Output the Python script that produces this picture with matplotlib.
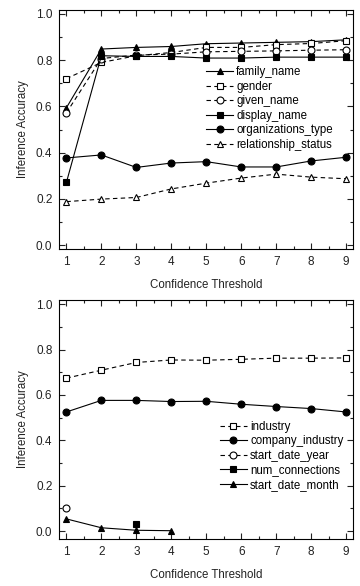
import matplotlib
matplotlib.use('Agg')
import matplotlib.pyplot as plt
from matplotlib.ticker import MultipleLocator
import numpy as np

plt.rcParams['font.family'] = ['Liberation Sans', 'DejaVu Sans']

# %% Data
thresholds = [1, 2, 3, 4, 5, 6, 7, 8, 9]

family_name = [0.594, 0.848, 0.855, 0.859, 0.871, 0.874, 0.877, 0.880, 0.888]
gender = [0.720, 0.790, 0.819, 0.833, 0.855, 0.855, 0.867, 0.872, 0.884]
given_name = [0.572, 0.807, 0.822, 0.826, 0.836, 0.838, 0.840, 0.843, 0.845]
display_name = [0.271, 0.819, 0.816, 0.816, 0.809, 0.809, 0.813, 0.813, 0.813]
organizations_type = [0.377, 0.390, 0.336, 0.355, 0.361, 0.338, 0.338, 0.364, 0.380]
relationship_status = [0.188, 0.199, 0.206, 0.243, 0.268, 0.290, 0.307, 0.294, 0.287]

industry = [0.674, 0.709, 0.743, 0.754, 0.753, 0.757, 0.762, 0.762, 0.763]
company_industry = [0.525, 0.576, 0.576, 0.571, 0.572, 0.559, 0.549, 0.540, 0.525]
start_date_year = [0.100, None, None, None, None, None, None, None, None]
num_connections = [None, None, 0.032, None, None, None, None, None, None]
start_date_month = [0.054, 0.015, 0.004, 0.002, None, None, None, None, None]

top_series = [
    ('family_name', family_name, '-', '^', 'k'),
    ('gender', gender, '--', 's', 'w'),
    ('given_name', given_name, '--', 'o', 'w'),
    ('display_name', display_name, '-', 's', 'k'),
    ('organizations_type', organizations_type, '-', 'o', 'k'),
    ('relationship_status', relationship_status, '--', '^', 'w'),
]
bottom_series = [
    ('industry', industry, '--', 's', 'w'),
    ('company_industry', company_industry, '-', 'o', 'k'),
    ('start_date_year', start_date_year, '--', 'o', 'w'),
    ('num_connections', num_connections, '-', 's', 'k'),
    ('start_date_month', start_date_month, '-', '^', 'k'),
]


def to_arr(vals):
    return np.array([np.nan if v is None else v for v in vals], dtype=float)


def draw(ax, series, ylim, legend_anchor):
    for name, vals, ls, mk, fc in series:
        ax.plot(thresholds, to_arr(vals), linestyle=ls, marker=mk, color='k',
                markerfacecolor=fc, markeredgecolor='k', markersize=5,
                markeredgewidth=0.8, linewidth=0.8, label=name,
                dashes=(4, 3) if ls == '--' else (None, None))
    ax.set_xlim(0.8, 9.2)
    ax.set_ylim(*ylim)
    ax.xaxis.set_major_locator(MultipleLocator(1))
    ax.xaxis.set_minor_locator(MultipleLocator(0.5))
    ax.yaxis.set_major_locator(MultipleLocator(0.2))
    ax.yaxis.set_minor_locator(MultipleLocator(0.1))
    ax.tick_params(which='both', direction='in', top=True, right=True,
                   labelsize=8.5, colors='#222222', width=0.8)
    ax.tick_params(which='major', length=4)
    ax.tick_params(which='minor', length=2.5)
    ax.tick_params(axis='x', pad=5)
    ax.tick_params(axis='y', pad=5)
    ax.set_yticklabels([f'{v:.1f}' for v in ax.get_yticks()])
    ax.set_xlabel('Confidence Threshold', fontsize=8.3, color='#222222', labelpad=8)
    ax.set_ylabel('Inference Accuracy', fontsize=8.3, color='#222222', labelpad=5)
    for sp in ax.spines.values():
        sp.set_linewidth(0.8)
    ax.legend(loc='upper left', bbox_to_anchor=legend_anchor, frameon=False,
              fontsize=8.3, handlelength=2.3, handletextpad=0.3,
              labelspacing=0.22, borderaxespad=0, borderpad=0)


fig = plt.figure(figsize=(3.6, 5.86), dpi=100)
ax1 = fig.add_axes([0.165, 0.575, 0.816, 0.408])
ax2 = fig.add_axes([0.165, 0.080, 0.816, 0.408])

draw(ax1, top_series, (-0.017, 1.017), (0.5, 0.765))
draw(ax2, bottom_series, (-0.035, 1.018), (0.547, 0.495))

fig.savefig('out.png', dpi=100)
